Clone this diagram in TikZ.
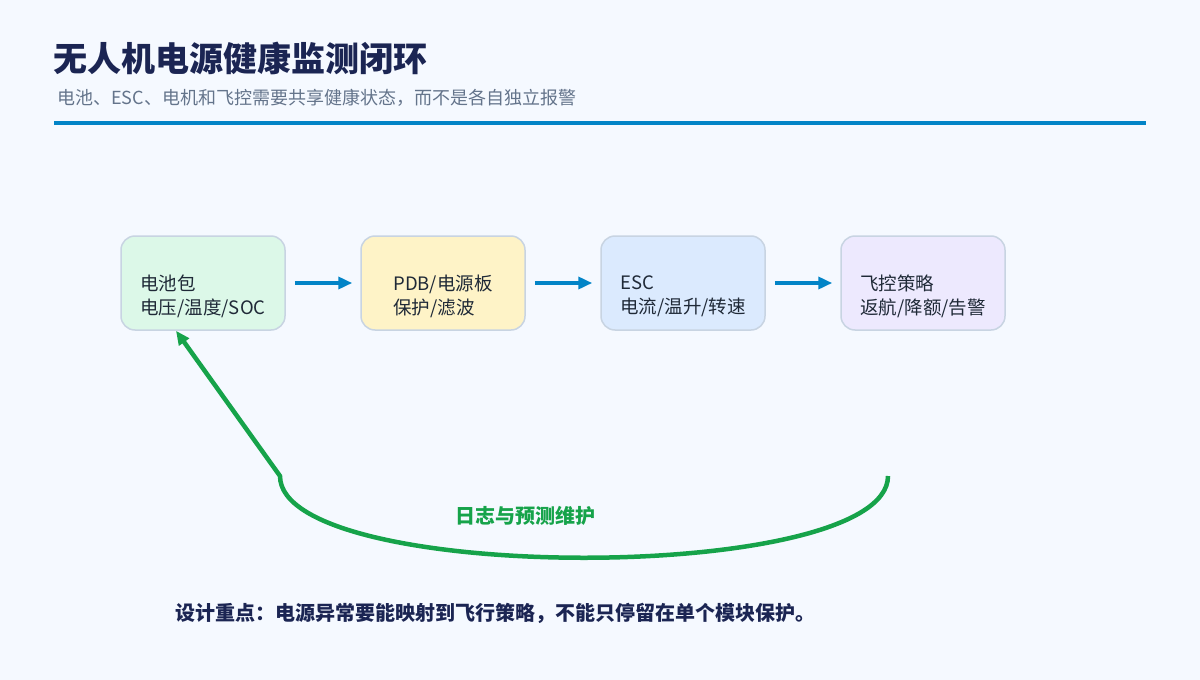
\documentclass[tikz,border=0pt]{standalone}
\usepackage{fontspec}
\setmainfont{Noto Sans CJK SC}
\usetikzlibrary{arrows.meta}

\definecolor{pagebg}{HTML}{F5F9FF}
\definecolor{titlenavy}{HTML}{1B2553}
\definecolor{subgrey}{HTML}{64748B}
\definecolor{ruleblue}{HTML}{0284C7}
\definecolor{boxline}{HTML}{C8D4E2}
\definecolor{battfill}{HTML}{DCF8E8}
\definecolor{pdbfill}{HTML}{FEF3C7}
\definecolor{escfill}{HTML}{DBEAFE}
\definecolor{fcfill}{HTML}{EDE9FE}
\definecolor{boxtext}{HTML}{1F2937}
\definecolor{loggreen}{HTML}{16A34A}

\begin{document}
\begin{tikzpicture}[x=1pt,y=1pt]
\tikzstyle{every node}+=[inner sep=0pt]
\tikzstyle{stage}=[draw=boxline, line width=1.5pt, rounded corners=14pt, minimum width=164pt, minimum height=94pt]
\tikzstyle{stagetext}=[align=left, text=boxtext, font=\fontsize{18.5}{24}\selectfont]
\tikzstyle{flow}=[draw=ruleblue, line width=4pt, -{Triangle[length=14pt,width=12pt]}, shorten <=9pt, shorten >=8pt]
\fill [pagebg] (0,0) rectangle (1200,-680);
\useasboundingbox (0,0) rectangle (1200,-680);
% heading
\node [anchor=west, text=titlenavy, font=\fontsize{34}{38}\selectfont\bfseries] (title) at (53,-58) {无人机电源健康监测闭环};
\node [anchor=west, text=subgrey, font=\fontsize{18}{20}\selectfont] (subtitle) at (57,-98) {电池、ESC、电机和飞控需要共享健康状态，而不是各自独立报警};
\draw [ruleblue, line width=4pt] (54,-123) -- (1146,-123);
% stages
\node [stage, fill=battfill] (bat) at (203,-283) {};
\node [stage, fill=pdbfill] (pdb) at (443,-283) {};
\node [stage, fill=escfill] (esc) at (683,-283) {};
\node [stage, fill=fcfill] (fc) at (923,-283) {};
\node [stagetext] (battxt) at (203,-296) {电池包\\电压/温度/SOC};
\node [stagetext] (pdbtxt) at (443,-296) {PDB/电源板\\保护/滤波};
\node [stagetext] (esctxt) at (683,-296) {ESC\\电流/温升/转速};
\node [stagetext] (fctxt) at (923,-296) {飞控策略\\返航/降额/告警};
\draw [flow] (bat) -- (pdb);
\draw [flow] (pdb) -- (esc);
\draw [flow] (esc) -- (fc);
% feedback loop
\coordinate (logR) at (888,-476);
\coordinate (logL) at (280,-476);
\coordinate (batin) at ([xshift=-27pt]bat.south);
\draw [loggreen, line width=4.5pt, -{Triangle[length=14pt,width=12pt]}] (logR) .. controls (888,-585) and (280,-585) .. (logL) -- (batin);
\node [text=loggreen, font=\fontsize{20}{22}\selectfont\bfseries] (loglabel) at (525,-516) {日志与预测维护};
% note
\node [anchor=west, text=titlenavy, font=\fontsize{20}{22}\selectfont\bfseries] (note) at (175,-613) {设计重点：电源异常要能映射到飞行策略，不能只停留在单个模块保护。};
\end{tikzpicture}
\end{document}
